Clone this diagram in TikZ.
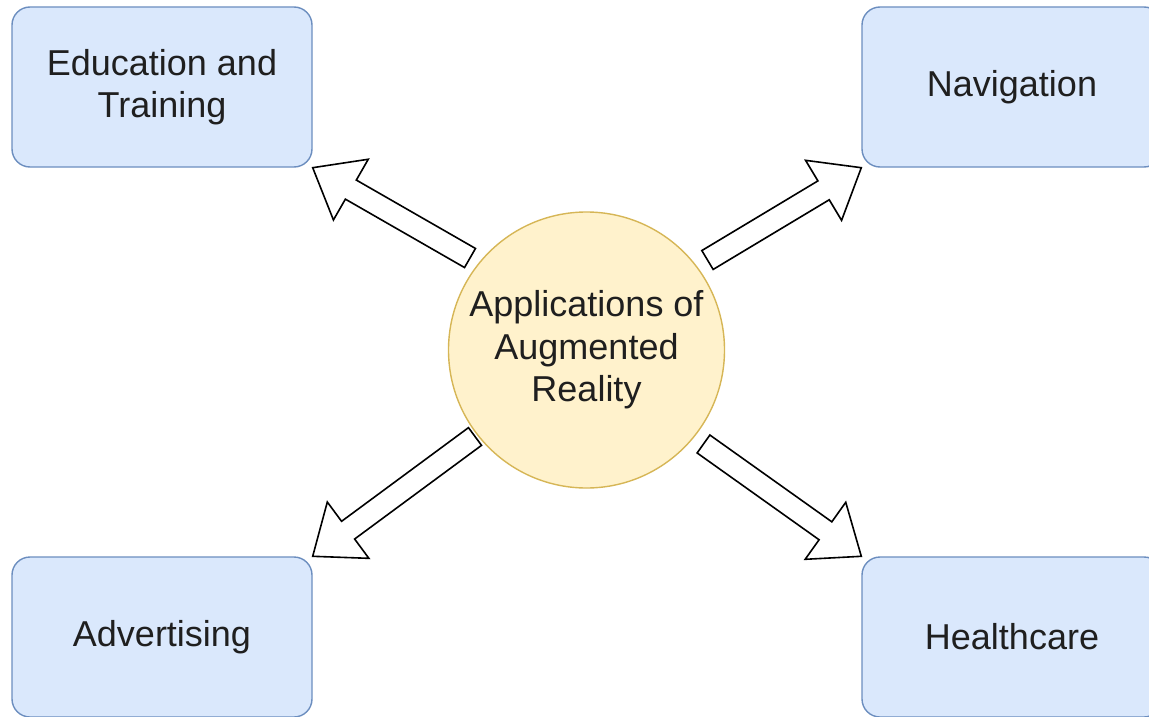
\documentclass[tikz,border=0pt]{standalone}
\usepackage{fontspec}
\setmainfont{Liberation Sans}
\usepackage{tikz}
\usetikzlibrary{calc,positioning}
\definecolor{boxfill}{HTML}{DAE8FC}
\definecolor{boxline}{HTML}{6C8EBF}
\definecolor{hubfill}{HTML}{FFF2CC}
\definecolor{hubline}{HTML}{D6B656}
\definecolor{inkc}{HTML}{1F1F1F}
\tikzset{
  area/.style={draw=boxline,line width=1.4pt,rounded corners=18pt,fill=boxfill,align=center,
    minimum width=300pt,minimum height=160pt,inner sep=0pt,text=inkc,
    font=\fontsize{36}{42.5}\selectfont},
  hub/.style={circle,draw=hubline,line width=1.4pt,fill=hubfill,align=center,
    minimum size=276pt,inner sep=0pt,text=inkc,font=\fontsize{36}{42.5}\selectfont},
  fat/.style={draw=black,fill=white,line width=1.6pt,line join=miter}
}
% hollow block arrow from #1 (tail) to #2 (tip)
\newcommand\fatarrow[2]{%
  \coordinate (hb) at ($(#2)!44pt!(#1)$);
  \draw[fat] ($(#1)!11pt!90:(#2)$) -- ($(hb)!11pt!90:(#2)$) -- ($(hb)!35pt!90:(#2)$)
    -- (#2) -- ($(hb)!35pt!-90:(#2)$) -- ($(hb)!11pt!-90:(#2)$) -- ($(#1)!11pt!-90:(#2)$) -- cycle;}

\begin{document}
\begin{tikzpicture}[x=1pt,y=-1pt]
\useasboundingbox (0,0) rectangle (1149,717);
\clip (0,0) rectangle (1149,717);
\node[hub] (ar) at (586.5,350) {Applications of\\Augmented\\Reality};
\node[area] (edu) at (162,87) {Education and\\Training};
\node[area] (nav) at (1012,87) {Navigation};
\node[area] (adv) at (162,637) {Advertising};
\node[area] (hlth) at (1012,637) {Healthcare};
% arrow tails near the circle
\coordinate (t1) at (470,258);
\coordinate (t2) at (707.5,260);
\coordinate (t3) at (475,436.5);
\coordinate (t4) at (703.5,444);
\fatarrow{t1}{edu.south east}
\fatarrow{t2}{nav.south west}
\fatarrow{t3}{adv.north east}
\fatarrow{t4}{hlth.north west}
\end{tikzpicture}
\end{document}
